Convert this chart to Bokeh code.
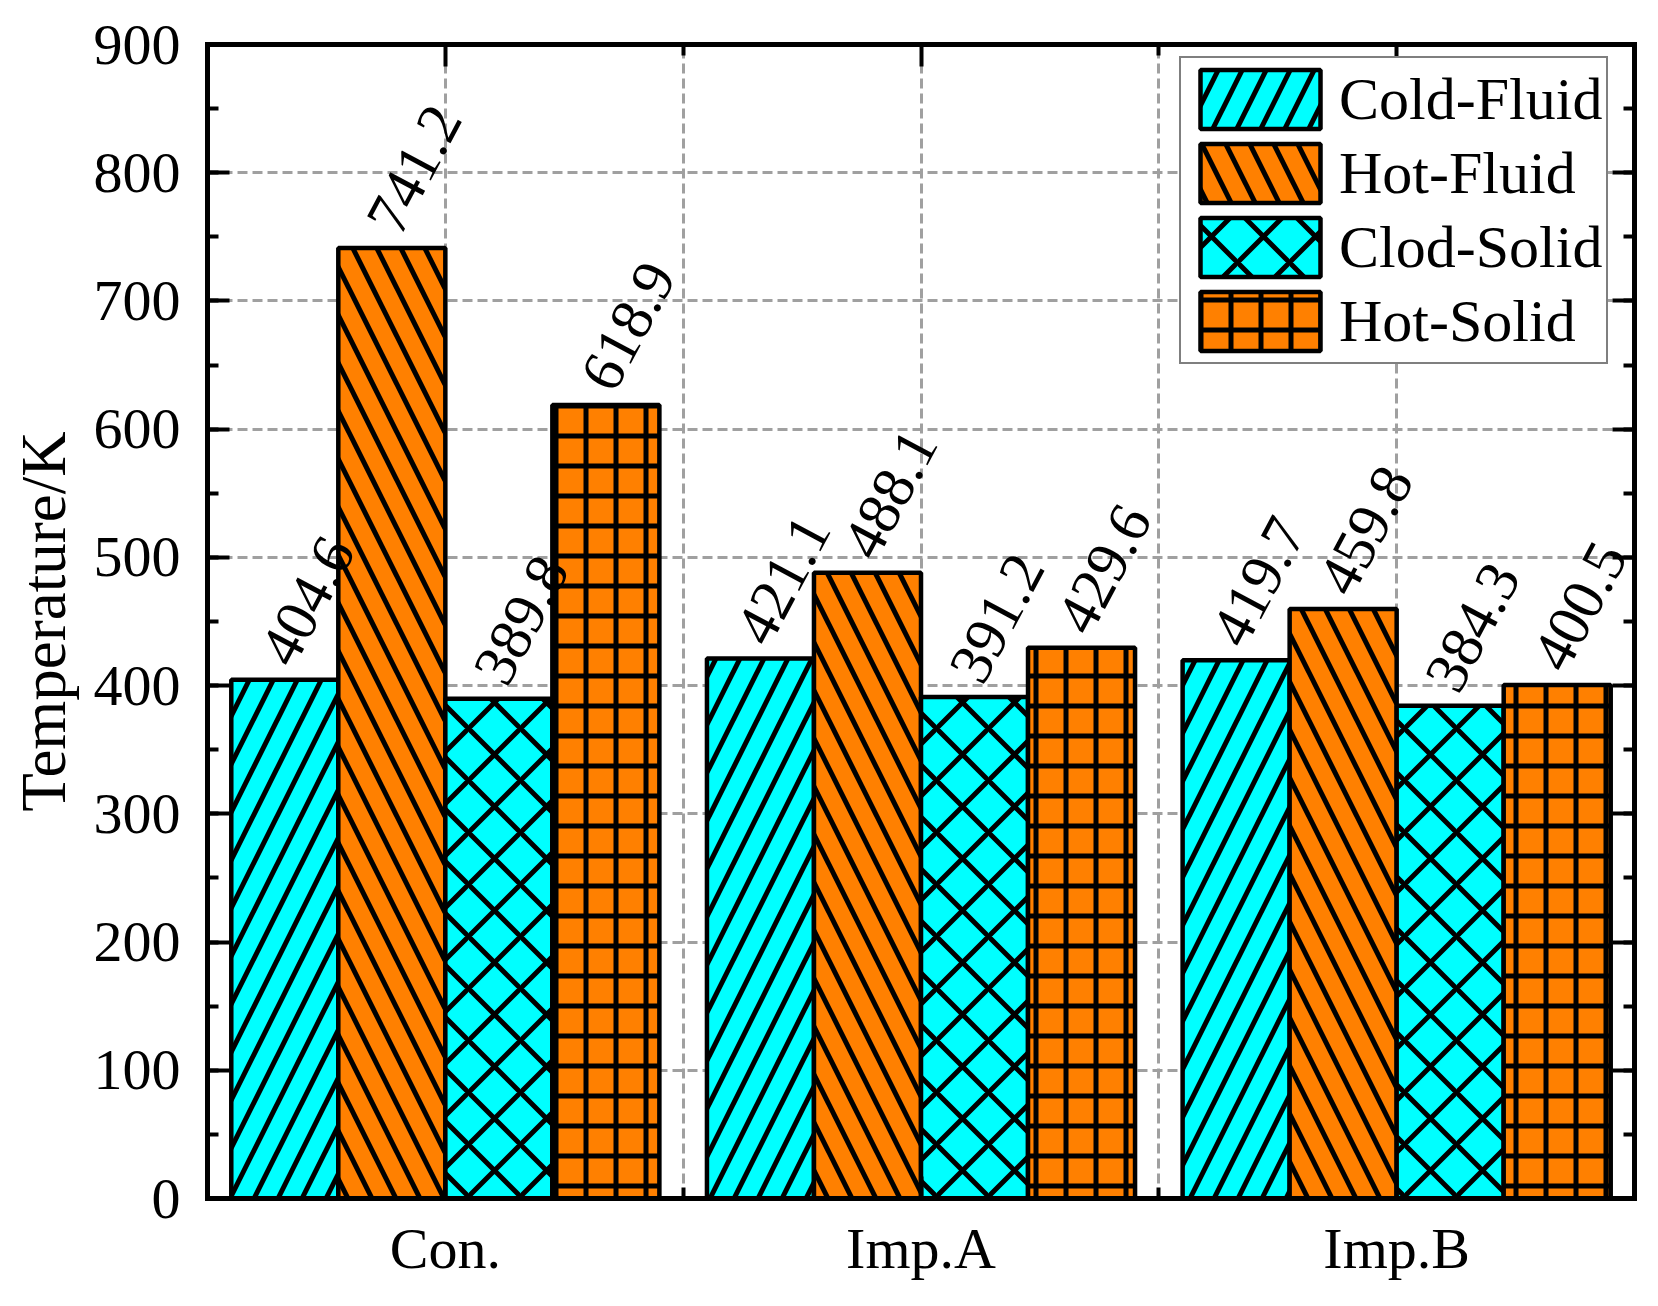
from bokeh.plotting import figure
from bokeh.models import (ColumnDataSource, FixedTicker, SingleIntervalTicker, LinearAxis,
                          Legend, LegendItem, Range1d)
from bokeh.transform import dodge
from bokeh.core.properties import value
from bokeh.embed import file_html
from bokeh.resources import INLINE

# data
groups = ["Con.", "Imp.A", "Imp.B"]
series = ["Cold-Fluid", "Hot-Fluid", "Clod-Solid", "Hot-Solid"]
cold_fluid = [404.6, 421.1, 419.7]
hot_fluid = [741.2, 488.1, 459.8]
clod_solid = [389.8, 391.2, 384.3]
hot_solid = [618.9, 429.6, 400.5]
y_label = "Temperature/K"

FONT = "Liberation Serif"
CYAN = "#00FFFF"
ORANGE = "#FF8000"
GRID = "#a0a0a0"

x_pos = list(range(1, len(groups) + 1))
source = ColumnDataSource(data=dict(
    x=x_pos,
    cold_fluid=cold_fluid, hot_fluid=hot_fluid,
    clod_solid=clod_solid, hot_solid=hot_solid,
    cold_fluid_txt=[f"{v:.1f}" for v in cold_fluid],
    hot_fluid_txt=[f"{v:.1f}" for v in hot_fluid],
    clod_solid_txt=[f"{v:.1f}" for v in clod_solid],
    hot_solid_txt=[f"{v:.1f}" for v in hot_solid],
))

p = figure(width=1650, height=1298, x_range=Range1d(0.5, 3.5), y_range=Range1d(0, 900),
           output_backend="svg", toolbar_location=None,
           min_border_left=207, min_border_right=16, min_border_top=44, min_border_bottom=100)
p.outline_line_color = None
p.background_fill_color = "white"

x_ticker = FixedTicker(ticks=x_pos, minor_ticks=[1.5, 2.5])
y_ticker = SingleIntervalTicker(interval=100, num_minor_ticks=2)


def style_axis(ax, labels=True):
    ax.axis_line_width = 5
    ax.axis_line_color = "black"
    ax.axis_line_cap = "square"
    ax.major_tick_in = 22
    ax.major_tick_out = 0
    ax.minor_tick_in = 11
    ax.minor_tick_out = 0
    ax.major_tick_line_width = 4
    ax.minor_tick_line_width = 4
    ax.major_label_text_font = FONT
    if labels:
        ax.major_label_text_color = "black"
        ax.major_label_text_font_size = "58px"
        ax.major_label_standoff = 27
    else:
        # mirrored frame axis: ticks only
        ax.major_label_text_color = None
        ax.major_label_text_font_size = "1px"
        ax.major_label_standoff = 0


xax = p.xaxis[0]
xax.ticker = x_ticker
xax.major_label_overrides = {x: g for x, g in zip(x_pos, groups)}
style_axis(xax)
xax.major_label_standoff = 17

yax = p.yaxis[0]
yax.ticker = y_ticker
style_axis(yax)
yax.axis_label = y_label
yax.axis_label_text_font = FONT
yax.axis_label_text_font_size = "63px"
yax.axis_label_text_font_style = "normal"
yax.axis_label_text_color = "black"
yax.axis_label_standoff = 12

top = LinearAxis(ticker=x_ticker)
style_axis(top, labels=False)
p.add_layout(top, "above")
right = LinearAxis(ticker=y_ticker)
style_axis(right, labels=False)
p.add_layout(right, "right")

# dashed grid, vertical lines at group centres and between groups
p.xgrid.ticker = x_ticker
p.ygrid.ticker = y_ticker
for g in (p.xgrid, p.ygrid):
    g.grid_line_color = GRID
    g.grid_line_width = 3
    g.grid_line_dash = "10 5"
p.xgrid.minor_grid_line_color = GRID
p.xgrid.minor_grid_line_width = 3
p.xgrid.minor_grid_line_dash = "10 5"

keys = ["cold_fluid", "hot_fluid", "clod_solid", "hot_solid"]
offsets = [-0.3375, -0.1125, 0.1125, 0.3375]
colors = [CYAN, ORANGE, CYAN, ORANGE]
patterns = ["/", "\\", "x", "+"]
scales = [48, 48, 52, 30]

items = []
for key, name, off, col, pat, sc in zip(keys, series, offsets, colors, patterns, scales):
    r = p.vbar(x=dodge("x", off), top=key, width=0.225, source=source,
               fill_color=col, line_color="black", line_width=4.5,
               hatch_pattern=pat, hatch_scale=sc, hatch_weight=5, hatch_color="black")
    items.append(LegendItem(label=name, renderers=[r]))

# value labels on top of all bars
for key, off in zip(keys, offsets):
    p.text(x=dodge("x", off), y=key, text=key + "_txt", source=source,
           angle=62, angle_units="deg", text_font=value(FONT), text_font_size="60px",
           text_color="black", text_align="left", text_baseline="alphabetic",
           x_offset=-9, y_offset=-19)

legend = Legend(items=items, location=(972, 834), glyph_width=150, glyph_height=74,
                label_height=74, spacing=0, padding=4, margin=0, label_standoff=4,
                label_text_font=FONT, label_text_font_size="60px", label_text_color="black",
                border_line_color="black", border_line_width=2,
                background_fill_color="white", background_fill_alpha=1.0)
p.add_layout(legend)

open("out.html", "w").write(file_html(p, INLINE))
